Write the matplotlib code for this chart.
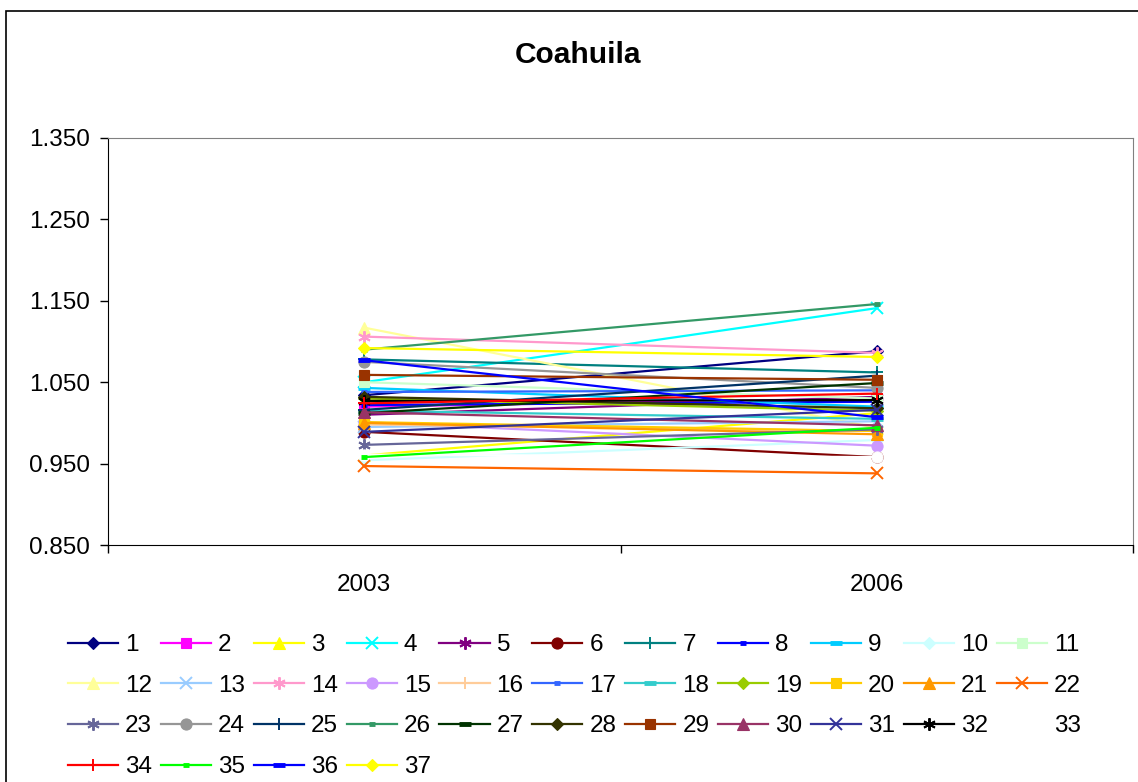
"""
plot.py

Coahuila index by series, 2003 vs 2006 (Excel-style line chart).
"""

import matplotlib
matplotlib.use("Agg")

import matplotlib.pyplot as plt
from matplotlib.patches import Rectangle

plt.rcParams["font.family"] = ["Liberation Sans", "DejaVu Sans"]

YEARS = ["2003", "2006"]
SERIES = [str(i) for i in range(1, 38)]

VALUES_2003 = [
    1.034, 1.020, 0.960, 1.050, 1.010, 0.989, 1.078, 1.022, 1.043, 0.954,
    1.050, 1.117, 0.995, 1.106, 1.001, 0.998, 1.038, 1.015, 1.030, 1.001,
    1.000, 0.947, 0.973, 1.075, 1.016, 1.090, 1.012, 1.032, 1.059, 1.013,
    0.989, 1.027, 0.961, 1.024, 0.958, 1.077, 1.092,
]
VALUES_2006 = [
    1.088, 1.030, 1.012, 1.141, 1.032, 0.958, 1.062, 1.026, 1.020, 0.979,
    1.030, 0.994, 1.002, 1.086, 0.972, 0.990, 1.040, 1.005, 1.015, 0.990,
    0.986, 0.938, 0.992, 1.043, 1.058, 1.146, 1.049, 1.018, 1.053, 0.997,
    1.016, 1.028, 0.958, 1.036, 0.994, 1.007, 1.081,
]

# Excel 2003 default series colours
COLORS = [
    "#000080", "#FF00FF", "#FFFF00", "#00FFFF", "#800080", "#800000", "#008080",
    "#0000FF", "#00CCFF", "#CCFFFF", "#CCFFCC", "#FFFF99", "#99CCFF", "#FF99CC",
    "#CC99FF", "#FFCC99", "#3366FF", "#33CCCC", "#99CC00", "#FFCC00", "#FF9900",
    "#FF6600", "#666699", "#969696", "#003366", "#339966", "#003300", "#333300",
    "#993300", "#993366", "#333399", "#000000", "#FFFFFF", "#FF0000", "#00FF00",
    "#0000FF", "#FFFF00",
]
# Excel marker cycle: diamond, square, triangle, x, star, circle, plus, short dash, dash
MARKER_CYCLE = [("D", 6), ("s", 7), ("^", 8), ("x", 8), ("*", 0), ("o", 8),
                ("+", 9), ("_", 5), ("_", 8)]
NCOL = 11

fig = plt.figure(figsize=(11.38, 7.82), dpi=100)
fig.patches.append(Rectangle((6 / 1138, -0.1), 1.2, (771 / 782) + 0.1,
                             transform=fig.transFigure, fill=False,
                             edgecolor="black", linewidth=1.2))

ax = fig.add_axes([108 / 1138, 237 / 782, 1025 / 1138, 407 / 782])
xpos = [0.5, 1.5]

handles = []
for i, name in enumerate(SERIES):
    color = COLORS[i]
    marker, size = MARKER_CYCLE[i % len(MARKER_CYCLE)]
    kw = dict(color=color, linewidth=1.6, marker=marker, markersize=size,
              markerfacecolor=color, markeredgecolor=color, zorder=2 + i * 0.01)
    if marker == "*":
        kw.update(marker=(6, 2, 0), markersize=9, markeredgewidth=1.4)
    elif marker in ("x", "+"):
        kw.update(markeredgewidth=1.4)
    elif marker == "_":
        kw.update(markeredgewidth=3.5)
    else:
        kw.update(markeredgewidth=0.8)
    line, = ax.plot(xpos, [VALUES_2003[i], VALUES_2006[i]], label=name, **kw)
    handles.append(line)

ax.set_xlim(0, 2)
ax.set_ylim(0.85, 1.35)
yticks = [0.85, 0.95, 1.05, 1.15, 1.25, 1.35]
ax.set_yticks(yticks)
ax.set_yticklabels([f"{v:.3f}" for v in yticks])
ax.set_xticks([0, 1, 2])
ax.set_xticklabels([])
ax.set_xticks(xpos, minor=True)
ax.set_xticklabels(YEARS, minor=True)
ax.tick_params(axis="x", which="major", direction="out", length=6, width=1)
ax.tick_params(axis="x", which="minor", length=0, pad=21, labelsize=17.5)
ax.tick_params(axis="y", direction="out", length=6, width=1, pad=7, labelsize=17.5)

for side in ("top", "right"):
    ax.spines[side].set_color("#808080")
for side in ("left", "bottom"):
    ax.spines[side].set_color("black")

fig.text(578 / 1138, 1 - 55 / 782, "Coahuila", ha="center", va="center",
         fontsize=21.5, fontweight="bold")

# legend fills row by row like Excel: reorder for matplotlib's column-major fill
order = []
for c in range(NCOL):
    order.extend(range(c, len(handles), NCOL))
ax.legend([handles[k] for k in order], [SERIES[k] for k in order],
          loc="upper left", bbox_to_anchor=(68 / 1138, 1 - 634 / 782),
          bbox_transform=fig.transFigure, ncol=NCOL, frameon=False,
          fontsize=17.5, handlelength=2.06, handletextpad=0.29,
          columnspacing=0.36, labelspacing=0.77, borderpad=0,
          borderaxespad=0)

fig.savefig("out.png", dpi=100)
